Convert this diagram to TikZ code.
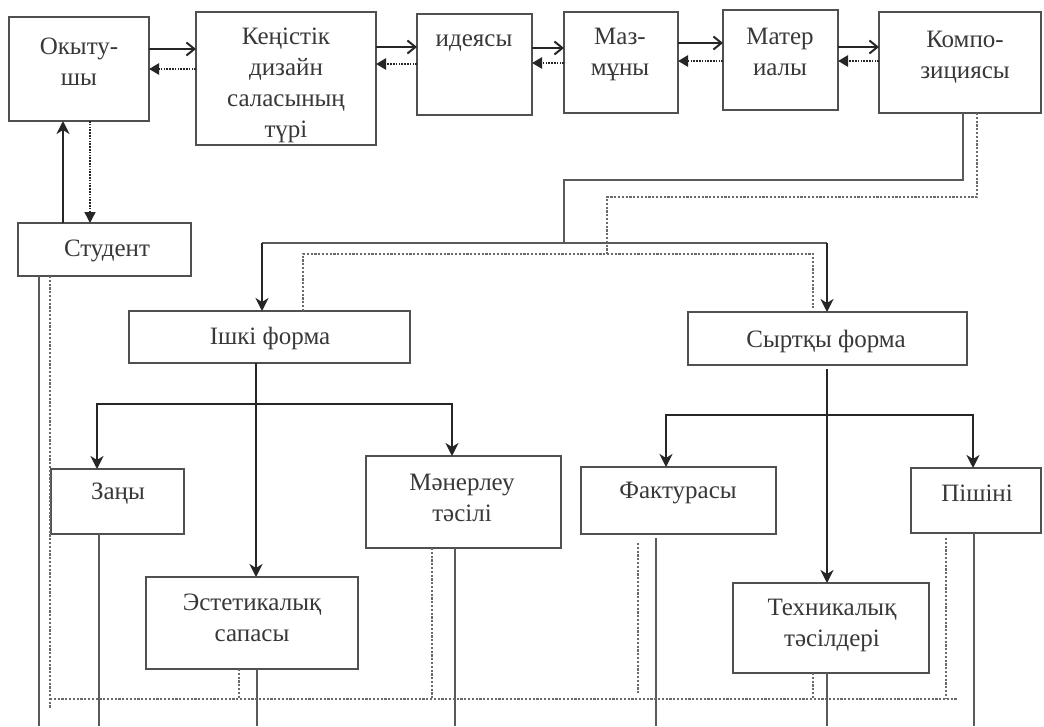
\documentclass[tikz,border=0pt]{standalone}
\usepackage{fontspec}
\setmainfont{Liberation Serif}
\usetikzlibrary{arrows.meta}
\definecolor{boxc}{HTML}{505050}
\definecolor{linec}{HTML}{5a5a5a}
\definecolor{dotc}{HTML}{6a6a6a}
\definecolor{darkc}{HTML}{262626}
\definecolor{textc}{HTML}{383838}
\tikzset{
  box/.style={draw=boxc, line width=1.8pt, inner sep=0pt, outer sep=0pt},
  lbl/.style={align=center, text=textc, font=\fontsize{25}{31}\selectfont, inner sep=0pt},
  solarr/.style={draw=darkc, line width=2.4pt, -{Straight Barb[length=8pt,width=13pt,line width=2pt]}},
  dotarr/.style={draw=darkc, line width=2.4pt, dash pattern=on 1.6pt off 1.2pt, -{Triangle[length=10pt,width=11pt,sep=0pt]}},
  downarr/.style={draw=darkc, line width=2.2pt, -{Stealth[length=13pt,width=13pt,inset=4pt]}},
  upcol/.style={draw=darkc, line width=2.2pt},
  route/.style={draw=linec, line width=1.6pt},
  thinline/.style={draw=linec, line width=1.4pt},
  dotline/.style={draw=dotc, line width=1.2pt, dash pattern=on 2.2pt off 1.6pt},
  dotarrv/.style={draw=darkc, line width=1.4pt, dash pattern=on 1.6pt off 1.2pt, -{Triangle[length=11pt,width=11pt]}}
}
\begin{document}
\begin{tikzpicture}[x=1pt,y=-1pt]
\useasboundingbox[fill=white] (0,0) rectangle (1044,726);

% ---- boxes ----
\node[box, minimum width=140pt, minimum height=104pt] (okytu) at (79,69) {};
\node[box, minimum width=180pt, minimum height=133pt] (kenistik) at (286,78.5) {};
\node[box, minimum width=115pt, minimum height=101pt] (ideyasy) at (474.5,64.5) {};
\node[box, minimum width=114pt, minimum height=101pt] (mazmuny) at (621,62.5) {};
\node[box, minimum width=115pt, minimum height=100pt] (material) at (780.5,60) {};
\node[box, minimum width=162pt, minimum height=101pt] (kompoz) at (960,62.5) {};
\node[box, minimum width=173pt, minimum height=53pt] (student) at (104.5,249.5) {};
\node[box, minimum width=281pt, minimum height=52pt] (ishki) at (269.5,337) {};
\node[box, minimum width=279pt, minimum height=53pt] (syrtky) at (827.5,338.5) {};
\node[box, minimum width=133pt, minimum height=65pt] (zany) at (117.5,501.5) {};
\node[box, minimum width=195pt, minimum height=92pt] (maner) at (463.5,502) {};
\node[box, minimum width=212pt, minimum height=92pt] (estet) at (252,623) {};
\node[box, minimum width=195pt, minimum height=67pt] (faktura) at (678.5,500.5) {};
\node[box, minimum width=130pt, minimum height=65pt] (pishini) at (976,500.5) {};
\node[box, minimum width=196pt, minimum height=90pt] (tekh) at (831,628) {};

% ---- labels ----
\node[lbl] (t-okytu) at (79,62) {Окыту-\\шы};
\node[lbl] (t-kenistik) at (286,85) {Кеңістік\\дизайн\\саласының\\түрі};
\node[lbl] (t-ideyasy) at (474,43) {идеясы};
\node[lbl] (t-mazmuny) at (620,54) {Маз-\\мұны};
\node[lbl] (t-material) at (780,52) {Матер\\иалы};
\node[lbl] (t-kompoz) at (965,57) {Компо-\\зициясы};
\node[lbl] (t-student) at (107,251) {Студент};
\node[lbl] (t-ishki) at (270,338) {Ішкі форма};
\node[lbl] (t-syrtky) at (826,341) {Сыртқы форма};
\node[lbl] (t-zany) at (118,494) {Заңы};
\node[lbl] (t-maner) at (462,498) {Мәнерлеу\\тәсілі};
\node[lbl] (t-estet) at (252,618) {Эстетикалық\\сапасы};
\node[lbl] (t-faktura) at (678,493) {Фактурасы};
\node[lbl] (t-pishini) at (977,493) {Пішіні};
\node[lbl] (t-tekh) at (832,625) {Техникалық\\тәсілдері};

% ---- top chain ----
\draw[solarr] (okytu.east |- 0,49) -- (kenistik.west |- 0,49);
\draw[dotarr] (kenistik.west |- 0,69) -- (okytu.east |- 0,69);
\draw[solarr] (kenistik.east |- 0,47) -- (ideyasy.west |- 0,47);
\draw[dotarr] (ideyasy.west |- 0,64) -- (kenistik.east |- 0,64);
\draw[solarr] (ideyasy.east |- 0,48) -- (mazmuny.west |- 0,48);
\draw[dotarr] (mazmuny.west |- 0,63) -- (ideyasy.east |- 0,63);
\draw[solarr] (mazmuny.east |- 0,43) -- (material.west |- 0,43);
\draw[dotarr] (material.west |- 0,61) -- (mazmuny.east |- 0,61);
\draw[solarr] (material.east |- 0,47) -- (kompoz.west |- 0,47);
\draw[dotarr] (kompoz.west |- 0,61) -- (material.east |- 0,61);

% ---- teacher / student ----
\draw[upcol, -{Stealth[length=13pt,width=13pt,inset=4pt]}] (student.north -| 63,0) -- (okytu.south -| 63,0);
\draw[dotarrv] (okytu.south -| 90,0) -- (student.north -| 90,0);

% ---- composition routing ----
\coordinate (jL) at (262,243);
\coordinate (jM) at (564,243);
\coordinate (jR) at (827,243);
\draw[route] (kompoz.south -| 963,0) |- (564,180) -- (jM);
\draw[route] (jL) -- (jR);
\draw[downarr] (jL) -- (ishki.north -| jL);
\draw[downarr] (jR) -- (syrtky.north -| jR);
\coordinate (dM) at (607,254);
\draw[dotline] (kompoz.south -| 977,0) |- (607,197) -- (dM);
\draw[dotline] (ishki.north -| 303,0) |- (813,254) -- ([yshift=4pt]syrtky.north -| 813,0);

% ---- inner form ----
\coordinate (bL) at (256,404);
\draw[downarr] (ishki.south -| 256,0) -- (estet.north -| 256,0);
\draw[downarr] (bL) -| (zany.north -| 97,0);
\draw[downarr] (bL) -| (maner.north -| 452,0);

% ---- outer form ----
\coordinate (bR) at (827,415);
\draw[downarr] ([yshift=-4pt]syrtky.south -| 827,0) -- (tekh.north -| 827,0);
\draw[downarr] (bR) -| (faktura.north -| 666,0);
\draw[downarr] (bR) -| (pishini.north -| 973,0);

% ---- bottom solid lines ----
\coordinate (e1) at (39,726);
\coordinate (e2) at (99,726);
\coordinate (e3) at (257,726);
\coordinate (e4) at (455,726);
\coordinate (e5) at (656,726);
\coordinate (e6) at (827,726);
\coordinate (e7) at (974,726);
\draw[thinline] (student.south -| e1) -- (e1);
\draw[thinline] (zany.south -| e2) -- (e2);
\draw[thinline] (estet.south -| e3) -- (e3);
\draw[thinline] (maner.south -| e4) -- (e4);
\draw[thinline] ([yshift=-4pt]faktura.south -| e5) -- (e5);
\draw[thinline] (tekh.south -| e6) -- (e6);
\draw[thinline] (pishini.south -| e7) -- (e7);

% ---- bottom dotted lines ----
\coordinate (dL) at (50,699);
\coordinate (dR) at (957,699);
\draw[dotline] (student.south -| 50,0) -- (50,708);
\draw[dotline] (dL) -- (dR);
\draw[dotline] (estet.south -| 239,0) -- (239,699);
\draw[dotline] (maner.south -| 432,0) -- (432,699);
\draw[dotline] ([yshift=-9pt]faktura.south -| 638,0) -- (638,693);
\draw[dotline] (tekh.south -| 813,0) -- (813,699);
\draw[dotline] ([yshift=-5pt]pishini.south -| 946,0) -- (946,699);
\end{tikzpicture}
\end{document}
